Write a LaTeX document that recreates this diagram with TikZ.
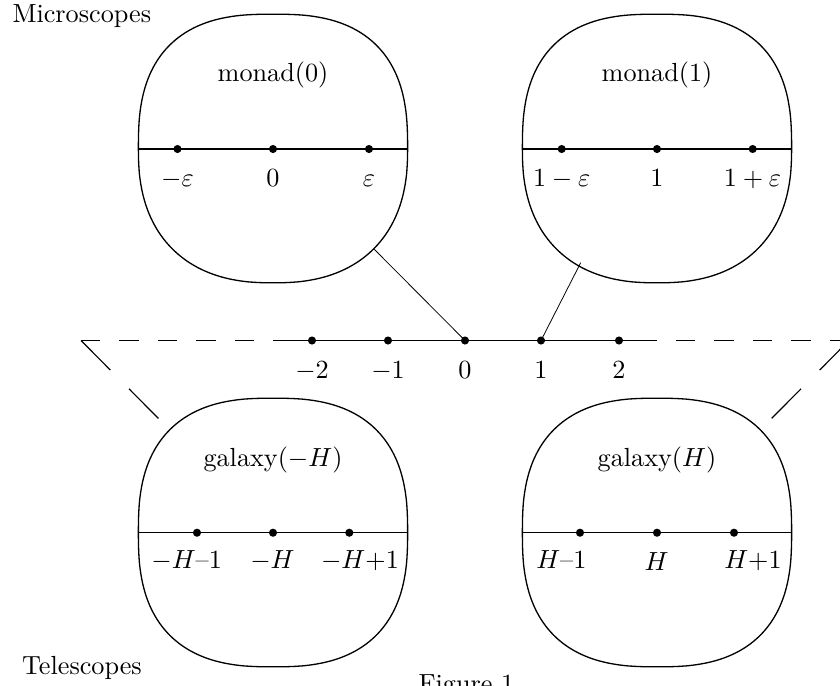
\documentclass[tikz,border=0pt]{standalone}
\tikzset{
  blob/.style={line width=0.5pt},
  axisline/.style={line width=0.4pt},
  link/.style={line width=0.3pt},
  dot/.style={circle, fill=black, inner sep=0pt, minimum size=3.1pt},
  lab/.style={anchor=base, inner sep=0pt},
  hdash/.style={line width=0.45pt, dash pattern=on 7.44pt off 7.25pt},
  ddash/.style={line width=0.45pt, dash pattern=on 15.9pt off 10.1pt},
}
% #1,#2 centre; #3 exponent (2/n) of lower half; #4 exponent of upper half
\newcommand\squircle[4]{\draw[blob, shift={(#1,#2)}]
  plot[domain=0:180, samples=121] ({134.6*sign(cos(\x))*pow(abs(cos(\x))+0.0001,#3)}, {134.3*sign(sin(\x))*pow(abs(sin(\x))+0.0001,#3)})
  -- plot[domain=180:360, samples=121] ({134.6*sign(cos(\x))*pow(abs(cos(\x))+0.0001,#4)}, {134.3*sign(sin(\x))*pow(abs(sin(\x))+0.0001,#4)})
  -- cycle;}
\begin{document}
\begin{tikzpicture}[x=0.3817pt, y=-0.3817pt]
\useasboundingbox (0,0) rectangle (840,685);
\clip (0,0) rectangle (840,685);

% blobs
\squircle{273}{148.5}{0.84}{0.76}
\squircle{657}{148.5}{0.84}{0.76}
\squircle{273}{532.5}{0.77}{0.77}
\squircle{657}{532.5}{0.77}{0.77}

% monad(0)
\coordinate (m0l) at (138.4,149);
\coordinate (m0r) at (407.6,149);
\draw[axisline] (m0l) -- (m0r);
\node[dot] (m0a) at (177.5,149) {};
\node[dot] (m0b) at (273,149) {};
\node[dot] (m0c) at (369,149) {};
\node[lab] (m0t) at (273,81) {monad$(0)$};
\node[lab] (m0al) at (177.5,186) {$-\varepsilon$};
\node[lab] (m0bl) at (273,186) {$0$};
\node[lab] (m0cl) at (369,186) {$\varepsilon$};

% monad(1)
\coordinate (m1l) at (522.4,149);
\coordinate (m1r) at (791.6,149);
\draw[axisline] (m1l) -- (m1r);
\node[dot] (m1a) at (561.7,149) {};
\node[dot] (m1b) at (657,149) {};
\node[dot] (m1c) at (752.7,149) {};
\node[lab] (m1t) at (657,81) {monad$(1)$};
\node[lab] (m1al) at (561.7,186) {$1-\varepsilon$};
\node[lab] (m1bl) at (657,186) {$1$};
\node[lab] (m1cl) at (752.5,186) {$1+\varepsilon$};

% galaxy(-H)
\coordinate (g0l) at (138.4,532.7);
\coordinate (g0r) at (407.6,532.7);
\draw[axisline] (g0l) -- (g0r);
\node[dot] (g0a) at (197,532.7) {};
\node[dot] (g0b) at (273,532.7) {};
\node[dot] (g0c) at (349.3,532.7) {};
\node[lab] (g0t) at (273,466) {galaxy$(-H)$};
\node[lab] (g0al) at (186.7,568) {$-H$--1};
\node[lab] (g0bl) at (272.5,568) {$-H$};
\node[lab] (g0cl) at (360,568) {$-H$+1};

% galaxy(H)
\coordinate (g1l) at (522.4,532.7);
\coordinate (g1r) at (791.6,532.7);
\draw[axisline] (g1l) -- (g1r);
\node[dot] (g1a) at (580,532.7) {};
\node[dot] (g1b) at (657,532.7) {};
\node[dot] (g1c) at (734,532.7) {};
\node[lab] (g1t) at (657,466) {galaxy$(H)$};
\node[lab] (g1al) at (561.3,568) {$H$--1};
\node[lab] (g1bl) at (656.5,570) {$H$};
\node[lab] (g1cl) at (753,568) {$H$+1};

% main axis
\coordinate (Lc) at (81,340.5);
\coordinate (Rc) at (849,340.5);
\coordinate (O) at (465,340.5);
\coordinate (Ls) at (274,340.5);
\coordinate (Rs) at (657,340.5);
\coordinate (Ld) at (158.5,418.5);
\coordinate (Rd) at (771.5,418.5);
\draw[hdash] (Lc) -- (O);
\draw[hdash] (Rc) -- (O);
\draw[ddash] (Lc) -- (Ld);
\draw[ddash] (Rc) -- (Rd);
\draw[axisline] (Ls) -- (Rs);
\node[dot] (am2) at (312,340.5) {};
\node[dot] (am1) at (388,340.5) {};
\node[dot] (a0) at (465,340.5) {};
\node[dot] (a1) at (541,340.5) {};
\node[dot] (a2) at (619,340.5) {};
\node[lab] (am2l) at (312,378) {$-2$};
\node[lab] (am1l) at (388,378) {$-1$};
\node[lab] (a0l) at (465,378) {$0$};
\node[lab] (a1l) at (541,378) {$1$};
\node[lab] (a2l) at (619,378) {$2$};

% connectors from microscopes
\coordinate (m0e) at (374.3,249.3);
\coordinate (m1e) at (580.7,262.7);
\draw[link] (m0e) -- (a0.center);
\draw[link] (m1e) -- (a1.center);

% captions
\node[anchor=base west, inner sep=0pt] (micro) at (12,22) {Microscopes};
\node[anchor=base west, inner sep=0pt] (tele) at (21.7,674) {Telescopes};
\node[anchor=base west, inner sep=0pt] (fig) at (418,692) {Figure 1};
\end{tikzpicture}
\end{document}
